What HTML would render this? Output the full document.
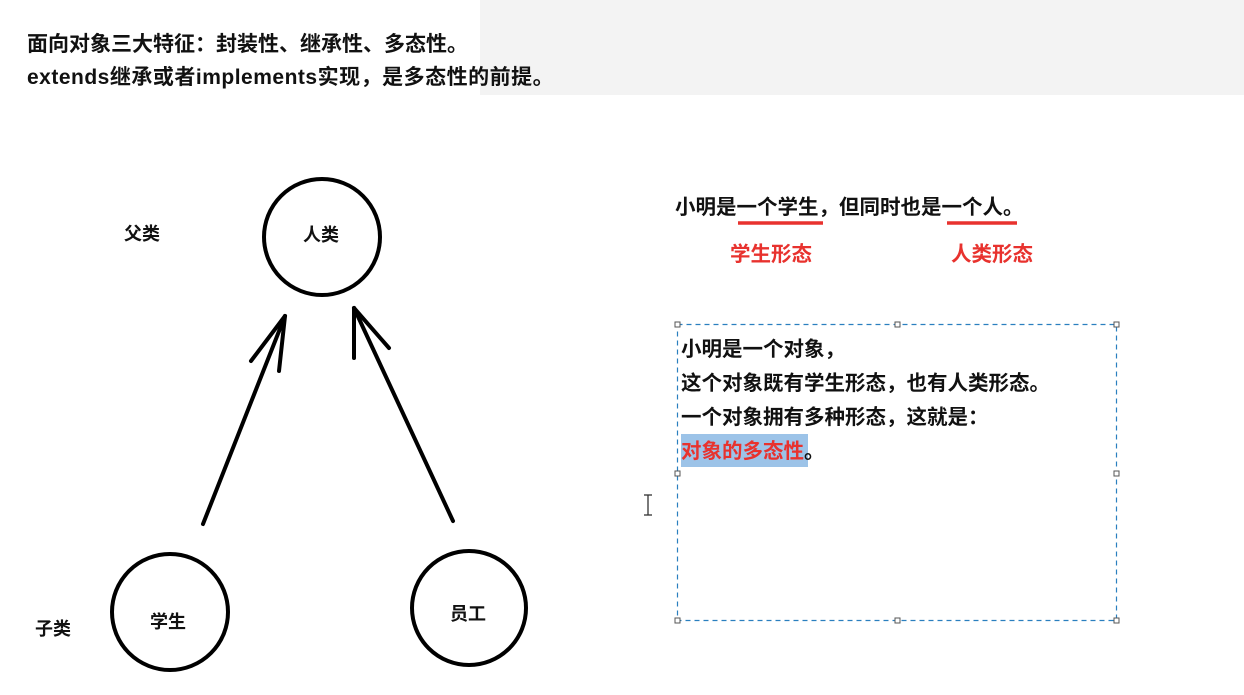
<!DOCTYPE html>
<html><head><meta charset="utf-8"><style>
html,body{margin:0;padding:0;}
body{width:1244px;height:695px;background:#fff;position:relative;overflow:hidden;font-family:"Liberation Sans","Noto Sans CJK SC",sans-serif;font-weight:bold;color:#111;}
.t{position:absolute;white-space:nowrap;}
.red{color:#e8322e;}
</style></head><body>
<div style="position:absolute;left:480px;top:0;width:764px;height:95px;background:#f3f3f3;"></div>
<div class="t" style="left:27px;top:28px;font-size:21px;">面向对象三大特征：封装性、继承性、多态性。</div>
<div class="t" style="left:27px;top:61px;font-size:21px;letter-spacing:0.5px;">extends继承或者implements实现，是多态性的前提。</div>

<svg style="position:absolute;left:0;top:0" width="1244" height="695">
<g fill="none" stroke="#000" stroke-width="4" stroke-linecap="round">
<circle cx="322" cy="237" r="58"/>
<circle cx="170" cy="612" r="58"/>
<circle cx="469" cy="608" r="57"/>
<line x1="203" y1="524" x2="285" y2="316"/>
<line x1="285" y1="316" x2="251" y2="361"/>
<line x1="285" y1="316" x2="279" y2="371"/>
<line x1="453" y1="521" x2="354" y2="308"/>
<line x1="354" y1="308" x2="354" y2="358"/>
<line x1="354" y1="308" x2="389" y2="348"/>
</g>
<g stroke="#e8322e" stroke-width="3.5">
<line x1="738" y1="223" x2="823" y2="223"/>
<line x1="947" y1="223" x2="1017" y2="223"/>
</g>
<rect x="677.5" y="324.5" width="439" height="296" fill="none" stroke="#2a7fbf" stroke-width="1.2" stroke-dasharray="5,4"/>
<g fill="#fff" stroke="#555" stroke-width="1">
<rect x="675" y="322" width="5" height="5"/><rect x="895" y="322" width="5" height="5"/><rect x="1114" y="322" width="5" height="5"/>
<rect x="675" y="471" width="5" height="5"/><rect x="1114" y="471" width="5" height="5"/>
<rect x="675" y="618" width="5" height="5"/><rect x="895" y="618" width="5" height="5"/><rect x="1114" y="618" width="5" height="5"/>
</g>
<rect x="681" y="434" width="127" height="33" fill="#9cc3e8"/>
<g stroke="#333" stroke-width="1.3"><line x1="648" y1="495" x2="648" y2="515"/><line x1="644" y1="495" x2="652" y2="495"/><line x1="644" y1="515" x2="652" y2="515"/></g>
</svg>

<div class="t" style="left:303px;top:221px;font-size:18px;">人类</div>
<div class="t" style="left:124px;top:220px;font-size:18px;">父类</div>
<div class="t" style="left:150px;top:608px;font-size:18px;">学生</div>
<div class="t" style="left:450px;top:600px;font-size:18px;">员工</div>
<div class="t" style="left:35px;top:615px;font-size:18px;">子类</div>

<div class="t" style="left:675px;top:190px;font-size:20.5px;">小明是一个学生，但同时也是一个人。</div>
<div class="t red" style="left:730px;top:237px;font-size:20.5px;">学生形态</div>
<div class="t red" style="left:951px;top:237px;font-size:20.5px;">人类形态</div>

<div class="t" style="left:681px;top:333px;font-size:20.5px;line-height:34px;">小明是一个对象，<br>这个对象既有学生形态，也有人类形态。<br>一个对象拥有多种形态，这就是：<br><span class="red">对象的多态性</span>。</div>
</body></html>
